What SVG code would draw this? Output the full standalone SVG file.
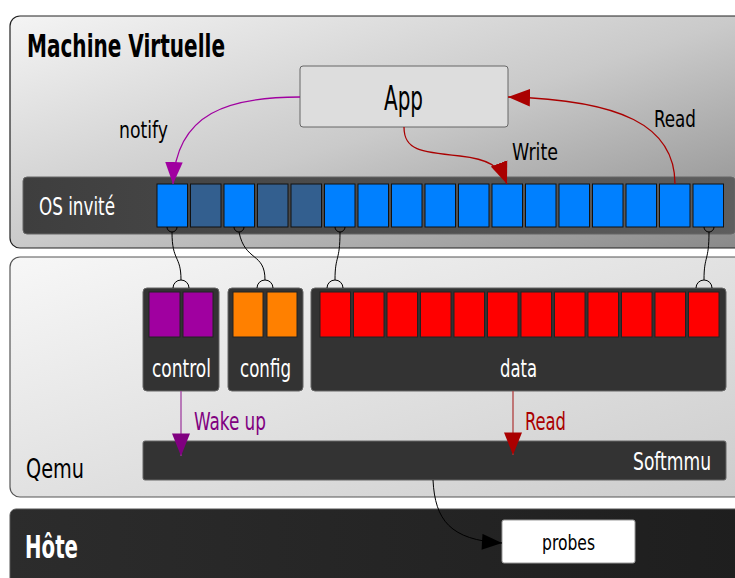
<svg xmlns="http://www.w3.org/2000/svg" width="735" height="578" viewBox="0 0 735 578">
<defs>
<linearGradient id="gVM" x1="0" y1="0" x2="1" y2="1"><stop offset="0" stop-color="#f4f4f4"/><stop offset="0.5" stop-color="#cacaca"/><stop offset="1" stop-color="#888888"/></linearGradient>
<linearGradient id="gQ" x1="0" y1="0" x2="1" y2="1"><stop offset="0" stop-color="#f7f7f7"/><stop offset="1" stop-color="#cccccc"/></linearGradient>
<linearGradient id="gOS" x1="0" y1="0" x2="1" y2="0"><stop offset="0" stop-color="#3e3e3e"/><stop offset="1" stop-color="#5e5e5e"/></linearGradient>
<linearGradient id="gH" x1="0" y1="0" x2="1" y2="0"><stop offset="0" stop-color="#2c2c2c"/><stop offset="1" stop-color="#1e1e1e"/></linearGradient>
<marker id="mP" viewBox="0 0 20 16" refX="20" refY="8" markerWidth="22" markerHeight="18" markerUnits="userSpaceOnUse" orient="auto"><path d="M0,0 L20,8 L0,16 z" fill="#a000a0"/></marker>
<marker id="mP2" viewBox="0 0 20 16" refX="20" refY="8" markerWidth="28" markerHeight="18" markerUnits="userSpaceOnUse" orient="auto"><path d="M0,0 L20,8 L0,16 z" fill="#800080"/></marker>
<marker id="mR" viewBox="0 0 20 16" refX="20" refY="8" markerWidth="22" markerHeight="18" markerUnits="userSpaceOnUse" orient="auto"><path d="M0,0 L20,8 L0,16 z" fill="#aa0000"/></marker>
<marker id="mR2" viewBox="0 0 20 16" refX="20" refY="8" markerWidth="28" markerHeight="18" markerUnits="userSpaceOnUse" orient="auto"><path d="M0,0 L20,8 L0,16 z" fill="#aa0000"/></marker>
<marker id="mK" viewBox="0 0 20 16" refX="20" refY="8" markerWidth="26" markerHeight="16" markerUnits="userSpaceOnUse" orient="auto"><path d="M0,0 L20,8 L0,16 z" fill="#000"/></marker>
</defs>
<style>
text{font-family:"DejaVu Sans Condensed","DejaVu Sans",sans-serif;font-stretch:condensed}
.t{font-size:24px;fill:#000}
.w{font-size:24px;fill:#fff}
.big{font-size:32px;font-weight:bold}
.blue{fill:#0080ff;stroke:#111;stroke-width:1}
.dblue{fill:#335f8f;stroke:#111;stroke-width:1}
.box{fill:#333;stroke:#666;stroke-width:1}
.red{fill:#ff0000;stroke:#222;stroke-width:1}
.pur{fill:#a000a0;stroke:#222;stroke-width:1}
.ora{fill:#ff8000;stroke:#222;stroke-width:1}
.lnk{fill:none;stroke:#000;stroke-width:1}
</style>

<g id="vm">
<rect x="10" y="16" width="740" height="232" rx="10" fill="url(#gVM)" stroke="#222" stroke-width="1.2"/>
<text x="27" y="57" class="big" textLength="198" lengthAdjust="spacingAndGlyphs">Machine Virtuelle</text>
</g>

<g id="app">
<rect x="300" y="66" width="208" height="61" rx="3" fill="#dddddd" stroke="#666"/>
<text x="384" y="110" style="font-size:33px" textLength="39" lengthAdjust="spacingAndGlyphs">App</text>
</g>

<g id="os">
<rect x="23" y="177" width="712" height="57" rx="4" fill="url(#gOS)" stroke="#666"/>
<text x="39" y="215" class="w" style="font-size:25px" textLength="76" lengthAdjust="spacingAndGlyphs">OS invité</text>
<rect x="157" y="184" width="30.5" height="43" class="blue"/>
<rect x="190.5" y="184" width="30.5" height="43" class="dblue"/>
<rect x="224" y="184" width="30.5" height="43" class="blue"/>
<rect x="257.5" y="184" width="30.5" height="43" class="dblue"/>
<rect x="291" y="184" width="30.5" height="43" class="dblue"/>
<rect x="324.5" y="184" width="30.5" height="43" class="blue"/>
<rect x="358" y="184" width="30.5" height="43" class="blue"/>
<rect x="391.5" y="184" width="30.5" height="43" class="blue"/>
<rect x="425" y="184" width="30.5" height="43" class="blue"/>
<rect x="458.5" y="184" width="30.5" height="43" class="blue"/>
<rect x="492" y="184" width="30.5" height="43" class="blue"/>
<rect x="525.5" y="184" width="30.5" height="43" class="blue"/>
<rect x="559" y="184" width="30.5" height="43" class="blue"/>
<rect x="592.5" y="184" width="30.5" height="43" class="blue"/>
<rect x="626" y="184" width="30.5" height="43" class="blue"/>
<rect x="659.5" y="184" width="30.5" height="43" class="blue"/>
<rect x="693" y="184" width="30.5" height="43" class="blue"/>
</g>

<g id="qemu">
<rect x="10" y="257" width="740" height="240" rx="10" fill="url(#gQ)" stroke="#555" stroke-width="1.2"/>
<text x="26" y="478" class="t" style="font-size:26px" textLength="58" lengthAdjust="spacingAndGlyphs">Qemu</text>
</g>

<g id="control">
<rect x="143" y="288" width="76" height="103" rx="4" class="box"/>
<rect x="149" y="292" width="31" height="45" class="pur"/>
<rect x="183" y="292" width="30" height="45" class="pur"/>
<text x="152" y="377" class="w" textLength="59" lengthAdjust="spacingAndGlyphs">control</text>
</g>

<g id="config">
<rect x="228" y="288" width="75" height="103" rx="4" class="box"/>
<rect x="233" y="292" width="30" height="45" class="ora"/>
<rect x="267" y="292" width="30" height="45" class="ora"/>
<text x="240" y="377" class="w" textLength="51" lengthAdjust="spacingAndGlyphs">config</text>
</g>

<g id="data">
<rect x="311" y="288" width="415" height="103" rx="4" class="box"/>
<rect x="320" y="292" width="30.5" height="45" class="red"/>
<rect x="353.5" y="292" width="30.5" height="45" class="red"/>
<rect x="387" y="292" width="30.5" height="45" class="red"/>
<rect x="420.5" y="292" width="30.5" height="45" class="red"/>
<rect x="454" y="292" width="30.5" height="45" class="red"/>
<rect x="487.5" y="292" width="30.5" height="45" class="red"/>
<rect x="521" y="292" width="30.5" height="45" class="red"/>
<rect x="554.5" y="292" width="30.5" height="45" class="red"/>
<rect x="588" y="292" width="30.5" height="45" class="red"/>
<rect x="621.5" y="292" width="30.5" height="45" class="red"/>
<rect x="655" y="292" width="30.5" height="45" class="red"/>
<rect x="688.5" y="292" width="30.5" height="45" class="red"/>
<text x="500" y="377" class="w" textLength="37" lengthAdjust="spacingAndGlyphs">data</text>
</g>

<g id="softmmu">
<rect x="143" y="441" width="583" height="39" rx="2" class="box"/>
<text x="633" y="470" class="w" textLength="78" lengthAdjust="spacingAndGlyphs">Softmmu</text>
</g>

<g id="hote">
<rect x="10" y="509" width="740" height="80" rx="6" fill="url(#gH)" stroke="#555"/>
<text x="25" y="558" class="w big" textLength="53" lengthAdjust="spacingAndGlyphs">Hôte</text>
</g>

<g id="probes">
<rect x="502" y="520" width="133" height="43" rx="2" fill="#fff" stroke="#999"/>
<text x="542" y="550" class="t" style="font-size:22px" textLength="53" lengthAdjust="spacingAndGlyphs">probes</text>
</g>

<g id="connectors">
<path d="M300,97 C230,97 176,112 173,184" fill="none" stroke="#a000a0" stroke-width="1.3" marker-end="url(#mP)"/>
<text x="119" y="138" class="t" style="font-size:23px" textLength="49" lengthAdjust="spacingAndGlyphs">notify</text>
<path d="M404,127 C404,150 420,152 460,156 C488,159 500,166 507,184" fill="none" stroke="#aa0000" stroke-width="1.3" marker-end="url(#mR)"/>
<text x="512" y="160" class="t" style="font-size:23px" textLength="46" lengthAdjust="spacingAndGlyphs">Write</text>
<path d="M675,184 C675,125 620,100 508,97" fill="none" stroke="#aa0000" stroke-width="1.3" marker-end="url(#mR)"/>
<text x="654" y="127" class="t" style="font-size:23px" textLength="42" lengthAdjust="spacingAndGlyphs">Read</text>

<path d="M167,227 A5,5 0 0 0 177,227" class="lnk"/>
<path d="M234,227 A5,5 0 0 0 244,227" class="lnk"/>
<path d="M335,227 A5,5 0 0 0 345,227" class="lnk"/>
<path d="M704,227 A5,5 0 0 0 714,227" class="lnk"/>
<path d="M173,288 A8,8 0 0 1 189,288" class="lnk"/>
<path d="M257,288 A8,8 0 0 1 273,288" class="lnk"/>
<path d="M327,288 A8,8 0 0 1 343,288" class="lnk"/>
<path d="M696,288 A8,8 0 0 1 712,288" class="lnk"/>
<path d="M172,232 C172,262 181,255 181,280" class="lnk"/>
<path d="M239,232 C245,262 265,252 265,280" class="lnk"/>
<path d="M340,232 C340,262 335,255 335,280" class="lnk"/>
<path d="M709,232 C709,262 704,255 704,280" class="lnk"/>

<path d="M181,391 L181,456" fill="none" stroke="#a040a0" stroke-width="1.3" marker-end="url(#mP2)"/>
<text x="194" y="430" class="t" style="font-size:24px;fill:#800080" textLength="72" lengthAdjust="spacingAndGlyphs">Wake up</text>
<path d="M513,391 L513,455" fill="none" stroke="#b04040" stroke-width="1.3" marker-end="url(#mR2)"/>
<text x="525" y="430" class="t" style="font-size:24px;fill:#aa0000" textLength="41" lengthAdjust="spacingAndGlyphs">Read</text>

<path d="M433,480 C435,520 450,540 502,543" fill="none" stroke="#000" stroke-width="1" marker-end="url(#mK)"/>
</g>
</svg>
